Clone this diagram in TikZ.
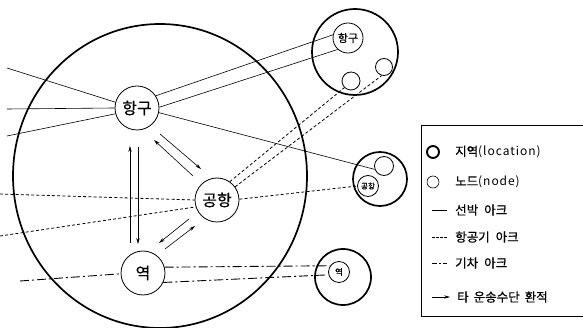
\documentclass[tikz,border=0pt]{standalone}
\usepackage{fontspec}
\setmainfont{Noto Sans CJK KR}
\newfontfamily\lat[LetterSpace=8]{Noto Sans CJK KR}
\newfontfamily\kb[FakeBold=0.6]{Noto Sans CJK KR}
\usetikzlibrary{arrows.meta,shapes.geometric}
\tikzset{
  nd/.style={circle,draw,line width=0.8pt,inner sep=0pt,minimum size=#1},
  loc/.style={circle,draw,line width=1.7pt,inner sep=0pt,minimum size=#1},
  ship/.style={line width=0.6pt},
  air/.style={line width=0.8pt,dash pattern=on 3pt off 2.2pt},
  rail/.style={line width=0.9pt,dash pattern=on 9pt off 3pt on 2pt off 3pt},
  tr/.style={line width=0.6pt,-{Stealth[length=6pt,width=3.4pt]}},
  lgtxt/.style={anchor=west,font=\kb\fontsize{12.5}{14}\selectfont,inner sep=0pt},
  big/.style={font=\kb\fontsize{16}{16}\selectfont}
}
\begin{document}
\begin{tikzpicture}[x=1pt,y=-1pt]
\useasboundingbox (0,0) rectangle (583,328);
% big region
\node[draw,ellipse,line width=1.7pt,minimum width=294pt,minimum height=304pt,inner sep=0pt] (bigr) at (160,176) {};
% inner nodes
\node[nd=44pt,big] (hg) at (137,108) {항구};
\node[nd=44pt,big] (gh) at (217,200) {공항};
\node[nd=44pt,big] (yk) at (143,273) {역};
% outer regions
\node[loc=86pt] (rt) at (355,52) {};
\node[loc=54pt] (rm) at (380,179) {};
\node[loc=56pt] (rb) at (343,277) {};
\node[nd=30pt,font=\kb\fontsize{11}{11}\selectfont] (hg2) at (348,38) {항구};
\node[nd=18pt] (ta) at (351,81) {};
\node[nd=17pt] (tb) at (384,67) {};
\node[nd=19pt] (mc) at (384,166) {};
\node[nd=21pt,font=\kb\fontsize{7.5}{7.5}\selectfont] (gh2) at (368,186) {공항};
\node[nd=21pt,font=\kb\fontsize{8.5}{8.5}\selectfont] (yk2) at (339,272) {역};
% free ends
\coordinate (l1) at (7,68);
\coordinate (l2) at (7,109);
\coordinate (l3) at (7,136);
\coordinate (l4) at (0,194);
\coordinate (l5) at (0,236);
\coordinate (l6) at (20,281);
% ship arcs
\draw[ship] (l1) -- (hg.165);
\draw[ship] (l2) -- (hg.180);
\draw[ship] (l3) -- (hg.195);
\draw[ship] (hg.33) -- (hg2.168);
\draw[ship] (hg.2) -- (hg2.228);
\draw[ship] (hg.-12) -- (mc.200);
% air arcs
\draw[air] (l4) -- (gh.180);
\draw[air] (l5) -- (gh.198);
\draw[air] (gh.2) -- (gh2.180);
\draw[air] (gh.55) -- (ta.225);
\draw[air] (gh.36) -- (tb.255);
% rail arcs
\draw[rail] (l6) -- (yk.182);
\draw[rail] (yk.15) -- (yk2.145);
\draw[rail] (yk.-25) -- (yk2.195);
% transfer arrows
\coordinate (v1a) at (130,243); \coordinate (v1b) at (130,146);
\coordinate (v2a) at (138,147); \coordinate (v2b) at (138,244);
\coordinate (da) at (193,176);  \coordinate (db) at (154,140);
\coordinate (dc) at (160,134);  \coordinate (dd) at (201,169);
\coordinate (ea) at (189,219);  \coordinate (eb) at (159,243);
\coordinate (ec) at (165,249);  \coordinate (ed) at (195,226);
\draw[tr] (v1a) -- (v1b);
\draw[tr] (v2a) -- (v2b);
\draw[tr] (da) -- (db);
\draw[tr] (dc) -- (dd);
\draw[tr] (ea) -- (eb);
\draw[tr] (ec) -- (ed);
% legend
\coordinate (b1) at (583,125);
\coordinate (b2) at (421,125);
\coordinate (b3) at (421,316);
\coordinate (b4) at (583,316);
\draw[line width=0.6pt] (b1) -- (b2) -- (b3) -- (b4);
\node[loc=12pt,line width=1.9pt] (k1) at (433,152) {};
\node[lgtxt] (t1) at (455,152) {지역{\lat\fontsize{12}{14}\selectfont(location)}};
\node[nd=12pt,line width=0.6pt] (k2) at (433,182) {};
\node[lgtxt] (t2) at (455,182) {노드{\lat\fontsize{12}{14}\selectfont(node)}};
\coordinate (s1) at (432,210); \coordinate (s2) at (447,210);
\draw[ship] (s1) -- (s2);
\node[lgtxt] (t3) at (455,210) {선박\hspace{6pt}아크};
\coordinate (d1) at (432,237); \coordinate (d2) at (447,237);
\draw[line width=0.7pt,dash pattern=on 2.5pt off 1.5pt] (d1) -- (d2);
\node[lgtxt] (t4) at (455,237) {항공기\hspace{6pt}아크};
\coordinate (r1) at (432,263); \coordinate (r2) at (447,263);
\draw[line width=0.8pt,dash pattern=on 5pt off 2pt on 1.5pt off 2pt] (r1) -- (r2);
\node[lgtxt] (t5) at (455,263) {기차\hspace{6pt}아크};
\coordinate (a3) at (432,297); \coordinate (a4) at (450,297);
\draw[tr] (a3) -- (a4);
\node[lgtxt] (t6) at (457,297) {타\hspace{5pt}운송수단\hspace{5pt}환적};
\end{tikzpicture}
\end{document}
